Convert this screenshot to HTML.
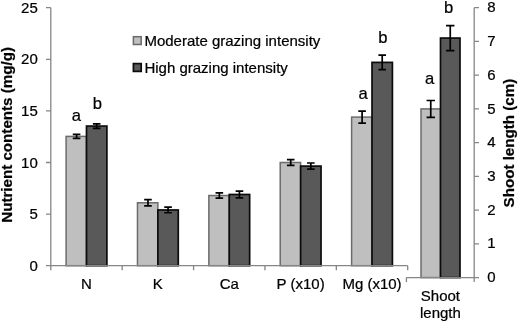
<!DOCTYPE html>
<html lang="en"><head><meta charset="utf-8"><title>Nutrient contents and shoot length</title>
<style>html,body{margin:0;padding:0;background:#fff}svg text{stroke:#000;stroke-width:.22px}body{width:518px;height:321px;overflow:hidden}</style></head>
<body>
<svg width="518" height="321" viewBox="0 0 518 321" style="display:block" font-family="'Liberation Sans', Arial, Helvetica, sans-serif" font-size="15px" fill="#000">
<rect width="518" height="321" fill="#fff"/>
<rect x="66.09" y="136.39" width="20.40" height="129.31" fill="#bfbfbf" stroke="#6c6c6c" stroke-width="1.5"/>
<rect x="86.49" y="126.07" width="20.40" height="139.63" fill="#595959" stroke="#0c0c0c" stroke-width="1.7"/>
<path d="M76.59 134.33V138.45M72.79 134.33H80.39M72.79 138.45H80.39" stroke="#000" stroke-width="1.7" fill="none"/>
<path d="M96.69 123.80V128.34M92.89 123.80H100.49M92.89 128.34H100.49" stroke="#000" stroke-width="1.7" fill="none"/>
<text x="86.49" y="289" text-anchor="middle">N</text>
<rect x="137.47" y="202.75" width="20.40" height="62.95" fill="#bfbfbf" stroke="#6c6c6c" stroke-width="1.5"/>
<rect x="157.87" y="209.97" width="20.40" height="55.73" fill="#595959" stroke="#0c0c0c" stroke-width="1.7"/>
<path d="M147.97 199.65V205.84M144.17 199.65H151.77M144.17 205.84H151.77" stroke="#000" stroke-width="1.7" fill="none"/>
<path d="M168.07 207.19V212.76M164.27 207.19H171.87M164.27 212.76H171.87" stroke="#000" stroke-width="1.7" fill="none"/>
<text x="157.87" y="289" text-anchor="middle">K</text>
<rect x="208.85" y="195.52" width="20.40" height="70.18" fill="#bfbfbf" stroke="#6c6c6c" stroke-width="1.5"/>
<rect x="229.25" y="194.49" width="20.40" height="71.21" fill="#595959" stroke="#0c0c0c" stroke-width="1.7"/>
<path d="M219.35 192.94V198.10M215.55 192.94H223.15M215.55 198.10H223.15" stroke="#000" stroke-width="1.7" fill="none"/>
<path d="M239.45 191.09V197.90M235.65 191.09H243.25M235.65 197.90H243.25" stroke="#000" stroke-width="1.7" fill="none"/>
<text x="229.25" y="289" text-anchor="middle">Ca</text>
<rect x="280.23" y="162.50" width="20.40" height="103.20" fill="#bfbfbf" stroke="#6c6c6c" stroke-width="1.5"/>
<rect x="300.63" y="166.11" width="20.40" height="99.59" fill="#595959" stroke="#0c0c0c" stroke-width="1.7"/>
<path d="M290.73 159.61V165.39M286.93 159.61H294.53M286.93 165.39H294.53" stroke="#000" stroke-width="1.7" fill="none"/>
<path d="M310.83 163.02V169.21M307.03 163.02H314.63M307.03 169.21H314.63" stroke="#000" stroke-width="1.7" fill="none"/>
<text x="300.63" y="289" text-anchor="middle">P (x10)</text>
<rect x="351.61" y="117.09" width="20.40" height="148.61" fill="#bfbfbf" stroke="#6c6c6c" stroke-width="1.5"/>
<rect x="372.01" y="62.40" width="20.40" height="203.30" fill="#595959" stroke="#0c0c0c" stroke-width="1.7"/>
<path d="M362.11 111.11V123.08M358.31 111.11H365.91M358.31 123.08H365.91" stroke="#000" stroke-width="1.7" fill="none"/>
<path d="M382.21 55.17V69.62M378.41 55.17H386.01M378.41 69.62H386.01" stroke="#000" stroke-width="1.7" fill="none"/>
<text x="372.01" y="289" text-anchor="middle">Mg (x10)</text>
<rect x="421.00" y="108.91" width="19.50" height="168.69" fill="#bfbfbf" stroke="#6c6c6c" stroke-width="1.5"/>
<rect x="440.50" y="38.06" width="19.50" height="239.54" fill="#595959" stroke="#0c0c0c" stroke-width="1.7"/>
<path d="M430.75 100.48V117.35M426.55 100.48H434.95M426.55 117.35H434.95" stroke="#000" stroke-width="1.7" fill="none"/>
<path d="M450.25 25.58V50.55M446.05 25.58H454.45M446.05 50.55H454.45" stroke="#000" stroke-width="1.7" fill="none"/>
<path d="M50.8 7.7V265.7H407.7M46.00 265.70H50.8M46.00 214.10H50.8M46.00 162.50H50.8M46.00 110.90H50.8M46.00 59.30H50.8M46.00 7.70H50.8M50.80 265.7V270.3M122.18 265.7V270.3M193.56 265.7V270.3M264.94 265.7V270.3M336.32 265.7V270.3M407.70 265.7V270.3" stroke="#868686" stroke-width="1.3" fill="none"/>
<path d="M474.2 7.7V277.6M406.4 277.6H474.2M406.4 277.6V282.0M474.2 277.6V282.0M474.2 277.60H479.0M474.2 243.86H479.0M474.2 210.12H479.0M474.2 176.39H479.0M474.2 142.65H479.0M474.2 108.91H479.0M474.2 75.18H479.0M474.2 41.44H479.0M474.2 7.70H479.0" stroke="#868686" stroke-width="1.3" fill="none"/>
<text x="37.8" y="270.70" text-anchor="end">0</text>
<text x="37.8" y="219.10" text-anchor="end">5</text>
<text x="37.8" y="167.50" text-anchor="end">10</text>
<text x="37.8" y="115.90" text-anchor="end">15</text>
<text x="37.8" y="64.30" text-anchor="end">20</text>
<text x="37.8" y="12.70" text-anchor="end">25</text>
<text x="487.2" y="282.20">0</text>
<text x="487.2" y="248.46">1</text>
<text x="487.2" y="214.72">2</text>
<text x="487.2" y="180.99">3</text>
<text x="487.2" y="147.25">4</text>
<text x="487.2" y="113.51">5</text>
<text x="487.2" y="79.78">6</text>
<text x="487.2" y="46.04">7</text>
<text x="487.2" y="12.30">8</text>
<rect x="133.4" y="36.7" width="7.8" height="7.8" fill="#bfbfbf" stroke="#6a6a6a" stroke-width="1.5"/>
<rect x="133.4" y="63.6" width="7.8" height="7.8" fill="#595959" stroke="#0a0a0a" stroke-width="1.7"/>
<text x="144.4" y="45.8">Moderate grazing intensity</text>
<text x="144.4" y="72.5">High grazing intensity</text>
<g font-size="16.6px" text-anchor="middle">
<text x="76.4" y="120.5">a</text><text x="97.4" y="108.8">b</text>
<text x="363.2" y="98.7">a</text><text x="382.8" y="42.7">b</text>
<text x="429.7" y="84">a</text><text x="448.6" y="12.6">b</text>
</g>
<text x="440.4" y="300.8" text-anchor="middle">Shoot</text><text x="440.4" y="317.5" text-anchor="middle">length</text>
<text transform="translate(12.3 134.9) rotate(-90)" text-anchor="middle" font-weight="bold" font-size="15.15px">Nutrient contents (mg/g)</text>
<text transform="translate(514 143.1) rotate(-90)" text-anchor="middle" font-weight="bold" font-size="15.15px">Shoot length (cm)</text>
</svg>
</body></html>
